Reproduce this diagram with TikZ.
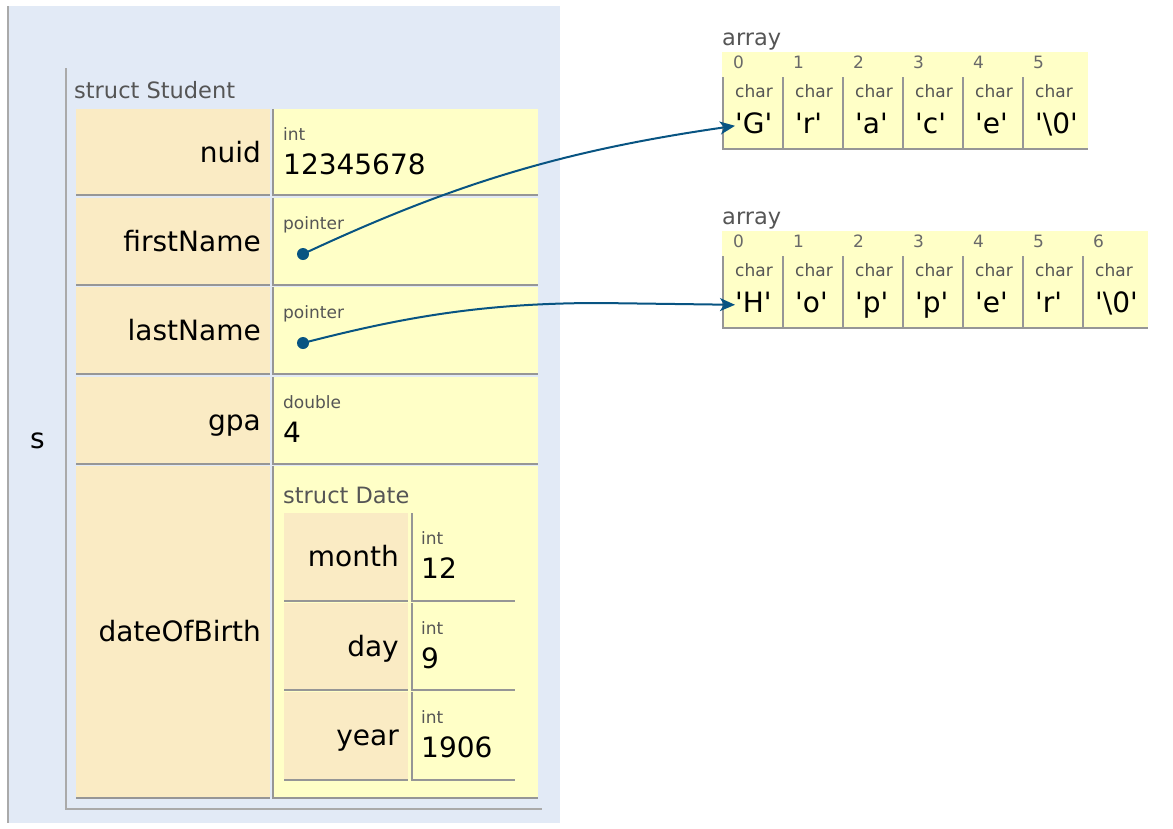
\documentclass[tikz,border=0pt]{standalone}
\usepackage{fontspec}
\setmainfont{DejaVu Sans}
\usetikzlibrary{arrows.meta}
\definecolor{bgblue}{RGB}{226,234,246}
\definecolor{namefill}{RGB}{250,235,196}
\definecolor{valfill}{RGB}{255,255,199}
\definecolor{linegray}{RGB}{150,150,150}
\definecolor{framegray}{RGB}{170,170,170}
\definecolor{labgray}{RGB}{85,85,85}
\definecolor{idxgray}{RGB}{105,105,105}
\definecolor{ptrblue}{RGB}{8,84,130}
\newcommand\myq{\textquotesingle}
\tikzset{
  bigtext/.style={font=\fontsize{28}{34}\selectfont, text=black, inner sep=0pt},
  typetext/.style={font=\fontsize{17}{20}\selectfont, text=labgray, inner sep=0pt, anchor=base west},
  labtext/.style={font=\fontsize{22.5}{27}\selectfont, text=labgray, inner sep=0pt, anchor=base west},
  idxtext/.style={font=\fontsize{17}{20}\selectfont, text=idxgray, inner sep=0pt, anchor=base west},
  nametext/.style={bigtext, anchor=base east},
  valtext/.style={bigtext, anchor=base west},
  cellline/.style={draw=linegray, line width=2pt},
  frameline/.style={draw=framegray, line width=2pt},
  ptr/.style={draw=ptrblue, line width=2pt, -{Stealth[length=15pt,width=13pt,inset=4pt]}},
  ptrdot/.style={circle, fill=ptrblue, minimum size=12pt, inner sep=0pt},
}
\begin{document}
\begin{tikzpicture}[x=1pt,y=-1pt]
\useasboundingbox (0,0) rectangle (1173,828);
% frame background
\fill[bgblue] (7,6) rectangle (560,823);
\draw[frameline] (8,6) -- (8,823);
\node[valtext] (svar) at (30,448) {s};
% struct Student frame
\draw[frameline] (66,68) -- (66,809) -- (542,809);
\node[labtext] (stlabel) at (74,98) {struct Student};
% outer rows
\foreach \t/\b in {109/196, 198/286, 287/375, 377/465, 466/799} {
  \fill[namefill] (76,\t) rectangle (270,\b);
  \fill[valfill] (272,\t) rectangle (538,\b);
  \draw[cellline] (76,\b-1) -- (270,\b-1);
  \draw[cellline] (272,\b-1) -- (538,\b-1);
  \draw[cellline] (273,\t) -- (273,\b);
}
% nuid
\node[nametext] (nnuid) at (261,162) {nuid};
\node[typetext] (tnuid) at (283,140) {int};
\node[valtext] (vnuid) at (283,174) {12345678};
% firstName
\node[nametext] (nfirst) at (261,251) {firstName};
\node[typetext] (tfirst) at (283,229) {pointer};
\node[ptrdot] (pfirst) at (303,254) {};
% lastName
\node[nametext] (nlast) at (261,340) {lastName};
\node[typetext] (tlast) at (283,318) {pointer};
\node[ptrdot] (plast) at (303,343) {};
% gpa
\node[nametext] (ngpa) at (261,430) {gpa};
\node[typetext] (tgpa) at (283,408) {double};
\node[valtext] (vgpa) at (283,442) {4};
% dateOfBirth
\node[nametext] (ndob) at (261,641) {dateOfBirth};
\node[labtext] (sdlabel) at (283,503) {struct Date};
\foreach \t/\b in {513/602, 603/691, 692/781} {
  \fill[namefill] (284,\t) rectangle (408,\b);
  \fill[valfill] (411,\t) rectangle (515,\b);
  \draw[cellline] (284,\b-1) -- (408,\b-1);
  \draw[cellline] (411,\b-1) -- (515,\b-1);
  \draw[cellline] (412,\t) -- (412,\b);
}
\node[nametext] (nmonth) at (399,566) {month};
\node[typetext] (tmonth) at (421,544) {int};
\node[valtext] (vmonth) at (421,578) {12};
\node[nametext] (nday) at (399,656) {day};
\node[typetext] (tday) at (421,634) {int};
\node[valtext] (vday) at (421,668) {9};
\node[nametext] (nyear) at (399,745) {year};
\node[typetext] (tyear) at (421,723) {int};
\node[valtext] (vyear) at (421,757) {1906};
% array 1
\node[labtext] (arrlabA) at (722,45) {array};
\fill[valfill] (722,52) rectangle (1088,150);
\draw[cellline] (722,149) -- (1088,149);
\foreach \i/\c in {0/G,1/r,2/a,3/c,4/e,5/\textbackslash0} {
  \draw[cellline] (723+60*\i,77) -- (723+60*\i,150);
  \node[idxtext] (ia\i) at (733+60*\i,68) {\i};
  \node[typetext] (ta\i) at (735+60*\i,97) {char};
  \node[valtext] (a\i) at (735+60*\i,133) {\myq\c\myq};
}
% array 2
\node[labtext] (arrlabB) at (722,224) {array};
\fill[valfill] (722,231) rectangle (1148,329);
\draw[cellline] (722,328) -- (1148,328);
\foreach \i/\c in {0/H,1/o,2/p,3/p,4/e,5/r,6/\textbackslash0} {
  \draw[cellline] (723+60*\i,256) -- (723+60*\i,329);
  \node[idxtext] (ib\i) at (733+60*\i,247) {\i};
  \node[typetext] (tb\i) at (735+60*\i,276) {char};
  \node[valtext] (b\i) at (735+60*\i,312) {\myq\c\myq};
}
% pointers
\draw[ptr] (pfirst.center) .. controls (457,182) and (567,150) .. ([yshift=-3pt]a0.west);
\draw[ptr] (plast.center) .. controls (400,318) and (480,303) .. (600,303) -- ([yshift=-3pt]b0.west);
\end{tikzpicture}
\end{document}
